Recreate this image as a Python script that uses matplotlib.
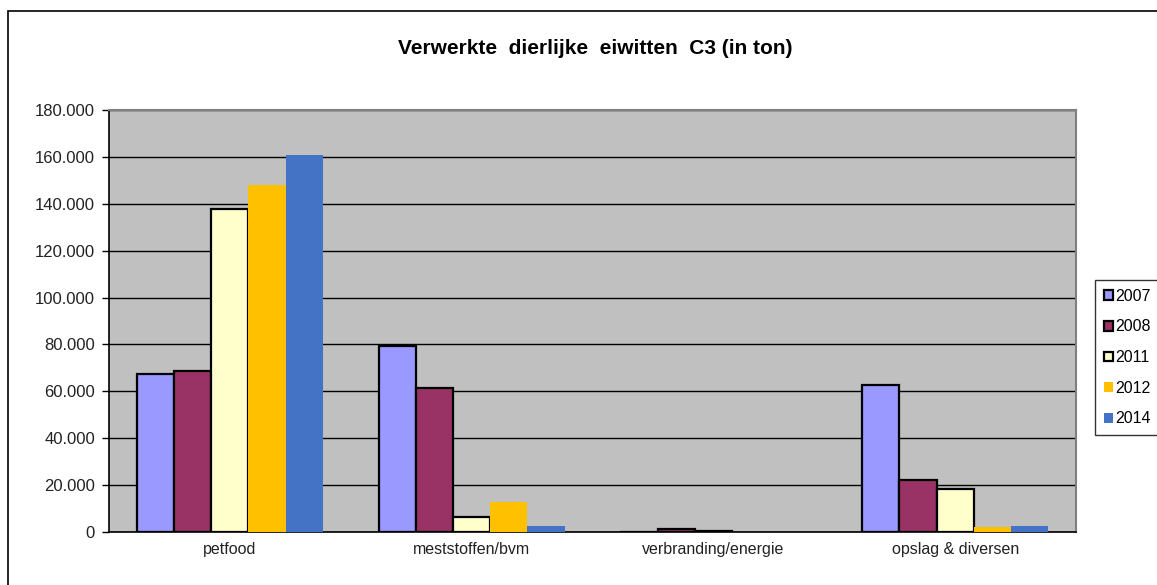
import numpy as np
import matplotlib
matplotlib.use("Agg")
from matplotlib import pyplot as plt
from matplotlib.patches import Rectangle
from matplotlib.ticker import FuncFormatter

plt.rcParams['font.family'] = ['Liberation Sans', 'DejaVu Sans']

categories = ["petfood", "meststoffen/bvm", "verbranding/energie", "opslag & diversen"]
years = ["2007", "2008", "2011", "2012", "2014"]
v2007 = [67400, 79500, 0, 62700]
v2008 = [68800, 61300, 1300, 22200]
v2011 = [137700, 6500, 400, 18200]
v2012 = [148200, 12800, 0, 2000]
v2014 = [161000, 2600, 0, 2700]

series = [v2007, v2008, v2011, v2012, v2014]
colors = ["#9999FF", "#993366", "#FFFFCC", "#FFC000", "#4472C4"]
edges = ["black", "black", "black", "none", "none"]

fig = plt.figure(figsize=(11.57, 5.85), dpi=100)
# outer chart frame (runs off the right/bottom side)
fig.patches.append(Rectangle((8 / 1157, -0.1), 1.2, 1 - 11 / 585 + 0.1,
                             transform=fig.transFigure, fill=False,
                             edgecolor="black", linewidth=1.2))

ax = fig.add_axes([109 / 1157, 1 - 532 / 585, (1076 - 109) / 1157, (532 - 110) / 585])
ax.set_facecolor("#C0C0C0")

x = np.arange(len(categories))
n = len(series)
w = (5 / 6.5) / n
for i, (vals, c, e) in enumerate(zip(series, colors, edges)):
    ax.bar(x - 2 * w + i * w, vals, width=w, color=c, edgecolor=e,
           linewidth=1.6 if e != "none" else 0, label=years[i], zorder=3)

ax.set_xlim(-0.5, len(categories) - 0.5)
ax.set_ylim(0, 180000)
ax.set_yticks(np.arange(0, 180001, 20000))
ax.yaxis.set_major_formatter(FuncFormatter(lambda v, p: f"{int(v):,}".replace(",", ".")))
ax.yaxis.grid(True, color="black", linewidth=1.0, zorder=0)
ax.set_axisbelow(True)

ax.set_xticks(x)
ax.set_xticklabels(categories)
ax.tick_params(axis="x", length=0, pad=7, labelsize=11.5, colors="#222222")
ax.tick_params(axis="y", length=5, width=1, direction="out", labelsize=12,
               pad=5, labelcolor="#222222")

for s in ("top", "right"):
    ax.spines[s].set_color("#808080")
    ax.spines[s].set_linewidth(1.5)
for s in ("left", "bottom"):
    ax.spines[s].set_color("black")
    ax.spines[s].set_linewidth(1.2)

fig.text(595 / 1157, 1 - 48 / 585, "Verwerkte  dierlijke  eiwitten  C3 (in ton)",
         ha="center", va="center", fontsize=15, fontweight="bold")

leg = ax.legend(loc="upper left", bbox_to_anchor=(1095 / 1157, 1 - 280 / 585),
                bbox_transform=fig.transFigure, fontsize=11.5, frameon=True,
                fancybox=False, edgecolor="black", handlelength=0.55,
                handleheight=0.55, handletextpad=0.15, labelspacing=0.98,
                borderpad=0.55, borderaxespad=0)
leg.get_frame().set_linewidth(1.0)

fig.savefig("out.png", dpi=100)
